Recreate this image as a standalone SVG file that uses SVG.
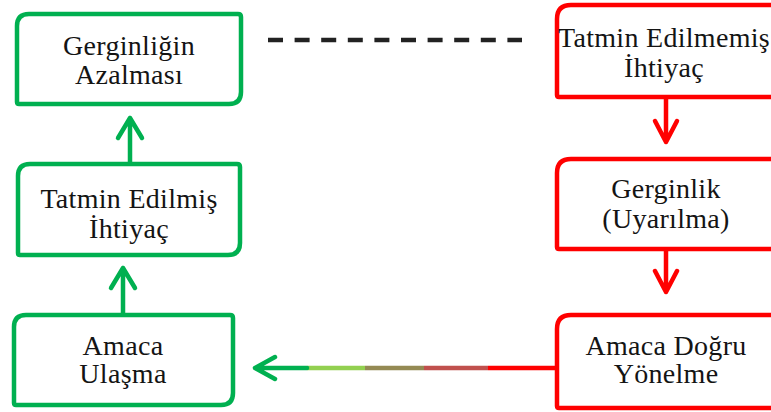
<svg xmlns="http://www.w3.org/2000/svg" width="771" height="412" viewBox="0 0 771 412">
<style>
.box{fill:#fff;stroke-width:4.5}
.g{stroke:#00B050}
.r{stroke:#FF0000}
text{font-size:28px;letter-spacing:0.3px;fill:#141414;text-anchor:middle}
.ln{fill:none;stroke-width:4.5;stroke-linecap:round;stroke-linejoin:round}
.seg{fill:none;stroke-width:4.5;stroke-linecap:butt}
</style>
<rect width="771" height="412" fill="#fff"/>
<g id="connectors">
<line x1="268" y1="40" x2="522" y2="40" stroke="#222" stroke-width="4.5" stroke-dasharray="15 11.6"/>
<path class="ln g" d="M123 313V268M111 288L123 268L135 288"/>
<path class="ln g" d="M130 162V118M118 138L130 118L142 138"/>
<path class="ln r" d="M666 99V142M655 121L666 142L677 121"/>
<path class="ln r" d="M666 251V292M655 271L666 292L677 271"/>
<line class="seg" x1="555" y1="368" x2="488" y2="368" stroke="#FF0000"/>
<line class="seg" x1="488" y1="368" x2="424" y2="368" stroke="#C0504D"/>
<line class="seg" x1="424" y1="368" x2="365" y2="368" stroke="#948A54"/>
<line class="seg" x1="365" y1="368" x2="307" y2="368" stroke="#92D050"/>
<path class="ln g" d="M307 368H255M275 357L255 368L275 379"/>
</g>
<g font-family="Liberation Serif, DejaVu Serif, serif">
<g id="node-gerginligin-azalmasi">
<path class="box g" d="M29 14H238Q241 14 241 17V92Q241 104 229 104H19Q17 104 17 102V26Q17 14 29 14Z"/>
<text x="129" y="55">Gerginliğin</text>
<text x="129" y="84">Azalması</text>
</g>
<g id="node-tatmin-edilmis">
<path class="box g" d="M30 164H237Q240 164 240 167V243Q240 255 228 255H20Q18 255 18 253V176Q18 164 30 164Z"/>
<text x="129" y="208">Tatmin Edilmiş</text>
<text x="129" y="238">İhtiyaç</text>
</g>
<g id="node-amaca-ulasma">
<path class="box g" d="M26 315H230Q233 315 233 318V393Q233 405 221 405H16Q14 405 14 403V327Q14 315 26 315Z"/>
<text x="123" y="355">Amaca</text>
<text x="123" y="383">Ulaşma</text>
</g>
<g id="node-tatmin-edilmemis">
<path class="box r" d="M571 5H776V97H559Q557 97 557 95V19Q557 5 571 5Z"/>
<text x="664" y="47">Tatmin Edilmemiş</text>
<text x="664" y="77">İhtiyaç</text>
</g>
<g id="node-gerginlik">
<path class="box r" d="M571 159H776V249H559Q557 249 557 247V173Q557 159 571 159Z"/>
<text x="666" y="198">Gerginlik</text>
<text x="666" y="228">(Uyarılma)</text>
</g>
<g id="node-amaca-dogru">
<path class="box r" d="M571 315H776V408H559Q557 408 557 406V329Q557 315 571 315Z"/>
<text x="666" y="355">Amaca Doğru</text>
<text x="666" y="383">Yönelme</text>
</g>
</g>
</svg>
